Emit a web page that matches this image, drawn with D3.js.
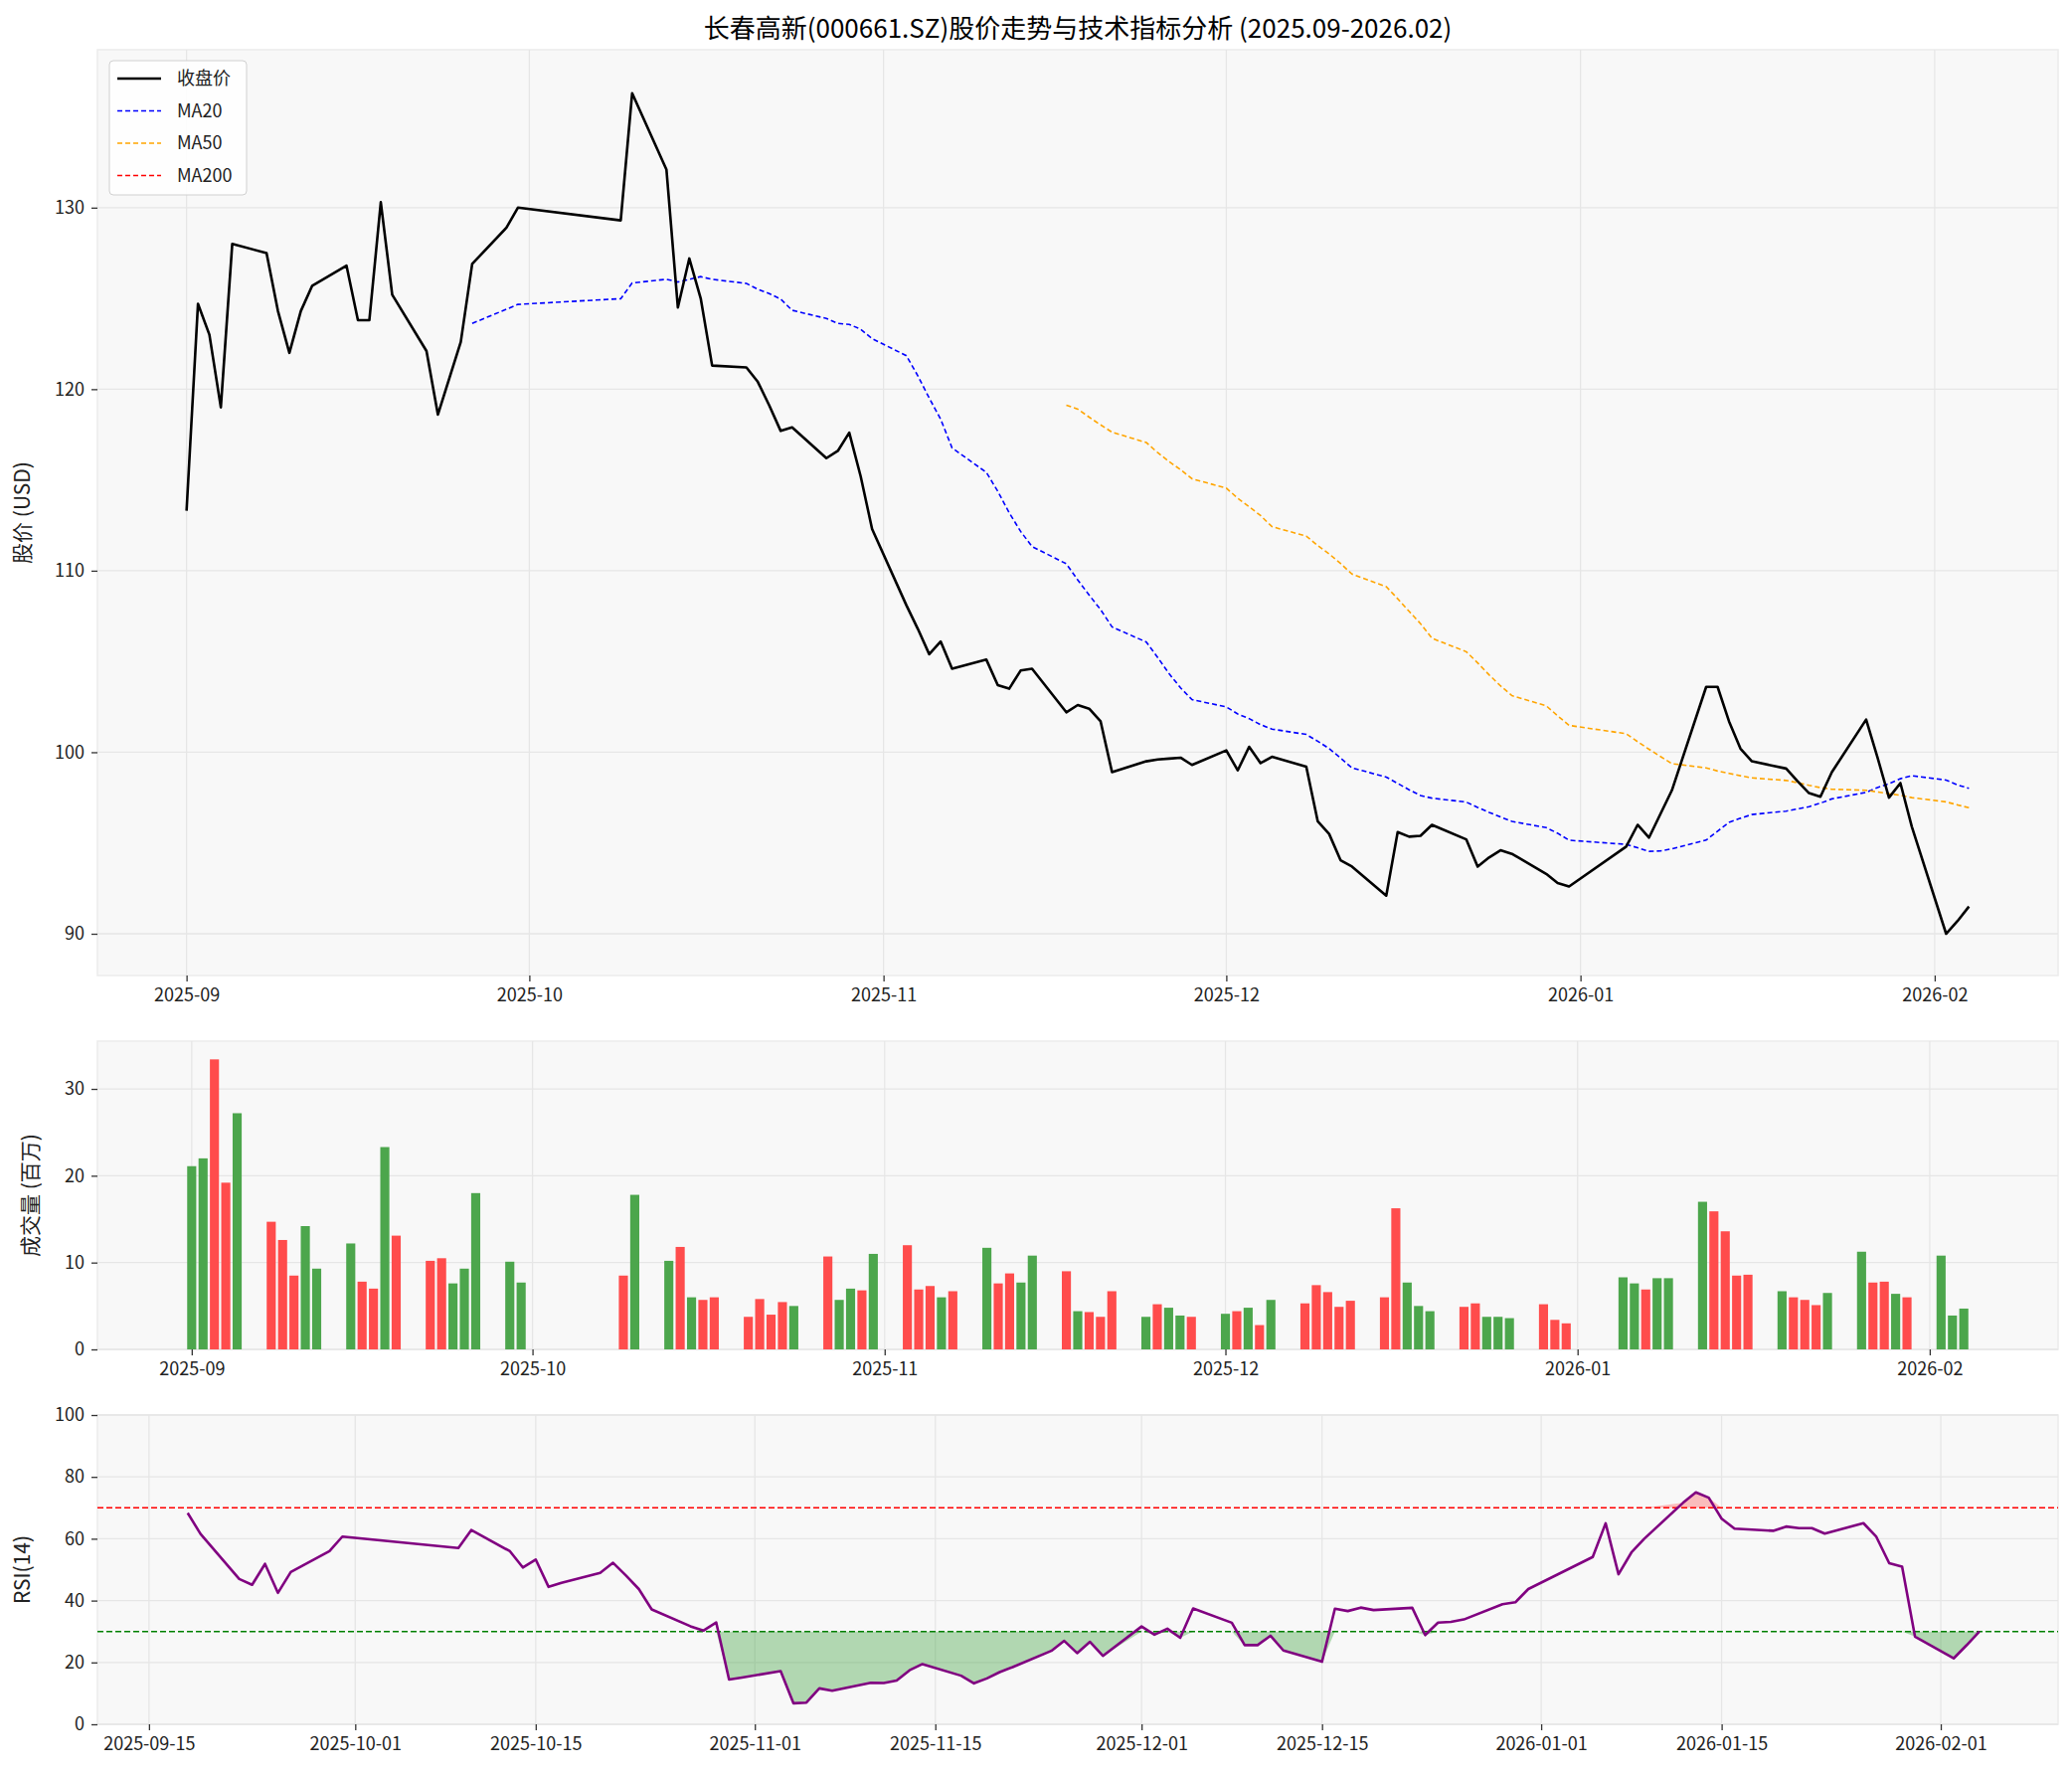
<!DOCTYPE html>
<html lang="zh">
<head>
<meta charset="UTF-8">
<title>长春高新 股价走势</title>
<script src="https://d3js.org/d3.v7.min.js"></script>
<style>
  body { margin: 0; background: #fff; }
  text { font-family: "Noto Sans CJK SC", "DejaVu Sans", sans-serif; }
</style>
</head>
<body>
<svg width="2084" height="1785"></svg>
<script>
// ---- data ----
const months = [
  { m: "2025-09", days: [1,2,3,4,5,8,9,10,11,12,15,16,17,18,19,22,23,24,25,26,29,30] },
  { m: "2025-10", days: [9,10,13,14,15,16,17,20,21,22,23,24,27,28,29,30,31] },
  { m: "2025-11", days: [3,4,5,6,7,10,11,12,13,14,17,18,19,20,21,24,25,26,27,28] },
  { m: "2025-12", days: [1,2,3,4,5,8,9,10,11,12,15,16,17,18,19,22,23,24,25,26,29,30,31] },
  { m: "2026-01", days: [5,6,7,8,9,12,13,14,15,16,19,20,21,22,23,26,27,28,29,30] },
  { m: "2026-02", days: [2,3,4] }
];
const close = [
  113.3,124.7,123.0,119.0,128.0, 127.5,124.3,122.0,124.3,125.7, 126.8,123.8,123.8,130.3,125.2,
  122.1,118.6,120.6,122.6,126.9, 128.9,130.0,
  129.3,136.3, 132.1,124.5,127.2,125.0,121.3, 121.2,120.4,119.1,117.7,117.9, 116.2,116.6,117.6,115.2,112.3,
  108.1,106.8,105.4,106.1,104.6, 105.1,103.7,103.5,104.5,104.6, 102.2,102.6,102.4,101.7,98.9,
  99.5,99.6,99.65,99.7,99.3,
  100.1,99.0,100.3,99.4,99.75, 99.2,96.2,95.5,94.05,93.7, 92.1,95.6,95.35,95.4,96.0,
  95.2,93.7,94.2,94.6,94.4, 93.3,92.8,92.6,
  94.8,96.0,95.3,96.6,97.9, 103.6,103.6,101.7,100.2,99.5, 99.1,98.4,97.75,97.55,98.9,
  101.8,99.7,97.5,98.3,95.9,
  90.0,90.7,91.5
];
const volume = [
  21.1,22.0,33.4,19.2,27.2, 14.7,12.6,8.5,14.2,9.3, 12.2,7.8,7.0,23.3,13.1, 10.2,10.5,7.6,9.3,18.0, 10.1,7.7,
  8.5,17.8, 10.2,11.8,6.0,5.7,6.0, 3.75,5.8,4.0,5.45,5.0, 10.7,5.7,7.0,6.8,11.0,
  12.0,6.9,7.3,6.0,6.7, 11.7,7.6,8.75,7.7,10.8, 9.0,4.4,4.3,3.75,6.7, 3.75,5.2,4.8,3.9,3.75,
  4.1,4.4,4.8,2.8,5.7, 5.3,7.4,6.6,4.9,5.6, 6.0,16.25,7.7,5.0,4.4, 4.9,5.3,3.75,3.75,3.6, 5.2,3.4,3.0,
  8.3,7.6,6.9,8.2,8.2, 17.0,15.9,13.6,8.5,8.6, 6.7,6.0,5.7,5.1,6.5, 11.25,7.7,7.8,6.4,6.0,
  10.8,3.9,4.7
];
// R = 红柱, G = 绿柱
const volColor = (
  "GGRRG" + "RRRGG" + "GRRGR" + "RRGGG" + "GG" +
  "RG" + "GRGRR" + "RRRRG" + "RGGRG" +
  "RRRGR" + "GRRGG" + "RGRRR" + "GRGGR" +
  "GRGRG" + "RRRRR" + "RRGGG" + "RRGGG" + "RRR" +
  "GGRGG" + "GRRRR" + "GRRRG" + "GRRGR" +
  "GGG"
).split("");
const priceTicks = [90, 100, 110, 120, 130];
const volTicks = [0, 10, 20, 30];
const rsiTicks = [0, 20, 40, 60, 80, 100];
const rsiDateTicks = ["2025-09-15","2025-10-01","2025-10-15","2025-11-01","2025-11-15",
  "2025-12-01","2025-12-15","2026-01-01","2026-01-15","2026-02-01"];

const parse = d3.timeParse("%Y-%m-%d");
const dates = [];
months.forEach(o => o.days.forEach(d => dates.push(parse(o.m + "-" + String(d).padStart(2, "0")))));

const rows = dates.map((d, i) => ({ date: d, close: close[i], vol: volume[i], c: volColor[i] }));

// moving averages and RSI(14) from closes
function ma(n) {
  return rows.map((r, i) => i < n - 1 ? null : d3.mean(rows.slice(i - n + 1, i + 1), d => d.close));
}
const ma20 = ma(20), ma50 = ma(50);
const gain = rows.map((r, i) => i === 0 ? 0 : Math.max(0, r.close - rows[i - 1].close));
const loss = rows.map((r, i) => i === 0 ? 0 : Math.max(0, rows[i - 1].close - r.close));
const rsi = rows.map((r, i) => {
  if (i < 13) return null;
  const g = d3.mean(gain.slice(i - 13, i + 1)), l = d3.mean(loss.slice(i - 13, i + 1));
  return 100 - 100 / (1 + g / l);
});

const svg = d3.select("svg");
const L = 98, R = 2070;
const day = 864e5;
const off = (s, k) => new Date(parse(s).getTime() + k * day);

svg.append("text").attr("x", 1084).attr("y", 38).attr("text-anchor", "middle")
  .attr("font-size", 26).attr("fill", "#000")
  .text("长春高新(000661.SZ)股价走势与技术指标分析 (2025.09-2026.02)");

function panel(top, bottom, x, y, yTicks, xTicks, xFmt, ylabel, ylabX) {
  const g = svg.append("g");
  g.append("rect").attr("x", L).attr("y", top).attr("width", R - L).attr("height", bottom - top)
    .attr("fill", "#f8f8f8").attr("stroke", "#ececec").attr("stroke-width", 1.5);
  g.selectAll(".vg").data(xTicks).join("line")
    .attr("x1", d => x(d)).attr("x2", d => x(d)).attr("y1", top).attr("y2", bottom)
    .attr("stroke", "#e6e6e6").attr("stroke-width", 1.3);
  g.selectAll(".hg").data(yTicks).join("line")
    .attr("x1", L).attr("x2", R).attr("y1", d => y(d)).attr("y2", d => y(d))
    .attr("stroke", "#e6e6e6").attr("stroke-width", 1.3);
  const ax = g.append("g").attr("transform", `translate(0,${bottom})`)
    .call(d3.axisBottom(x).tickValues(xTicks).tickFormat(xFmt).tickSize(6).tickPadding(7));
  const ay = g.append("g").attr("transform", `translate(${L},0)`)
    .call(d3.axisLeft(y).tickValues(yTicks).tickSize(6).tickPadding(7));
  [ax, ay].forEach(a => {
    a.select(".domain").remove();
    a.selectAll("line").attr("stroke", "#333").attr("stroke-width", 1.3);
    a.selectAll("text").attr("font-size", 18).attr("fill", "#222")
      .attr("font-family", "'Noto Sans CJK SC', sans-serif");
  });
  g.append("text").attr("transform", `translate(${ylabX},${(top + bottom) / 2}) rotate(-90)`)
    .attr("text-anchor", "middle").attr("font-size", 21).attr("fill", "#222").text(ylabel);
  return g;
}

// ---- price panel ----
const xP = d3.scaleTime().domain([off("2025-09-01", -7.8), off("2026-02-01", 10.8)]).range([L, R]);
const yP = d3.scaleLinear().domain([87.7, 138.7]).range([981, 50]);
const monthTicks = ["2025-09-01","2025-10-01","2025-11-01","2025-12-01","2026-01-01","2026-02-01"].map(parse);
const gp = panel(50, 981, xP, yP, priceTicks, monthTicks, d3.timeFormat("%Y-%m"), "股价 (USD)", 30);

const lineOf = (acc) => d3.line().defined((d, i) => acc(d, i) != null).x(d => xP(d.date)).y((d, i) => yP(acc(d, i)));
gp.append("path").datum(rows).attr("fill", "none").attr("stroke", "blue").attr("stroke-width", 1.6)
  .attr("stroke-dasharray", "5,3").attr("d", lineOf((d, i) => ma20[i]));
gp.append("path").datum(rows).attr("fill", "none").attr("stroke", "orange").attr("stroke-width", 1.6)
  .attr("stroke-dasharray", "5,3").attr("d", lineOf((d, i) => ma50[i]));
gp.append("path").datum(rows).attr("fill", "none").attr("stroke", "#000").attr("stroke-width", 2.6)
  .attr("stroke-linejoin", "round").attr("d", lineOf(d => d.close));

// legend
const leg = gp.append("g").attr("transform", "translate(110,61)");
leg.append("rect").attr("width", 138).attr("height", 135).attr("rx", 4)
  .attr("fill", "#fff").attr("fill-opacity", 0.85).attr("stroke", "#d0d0d0");
[["收盘价", "#000", null, 2.6], ["MA20", "blue", "5,3", 1.6], ["MA50", "orange", "5,3", 1.6], ["MA200", "red", "5,3", 1.6]]
  .forEach((e, i) => {
    const yy = 18 + i * 32.5;
    leg.append("line").attr("x1", 8).attr("x2", 52).attr("y1", yy).attr("y2", yy)
      .attr("stroke", e[1]).attr("stroke-width", e[3]).attr("stroke-dasharray", e[2]);
    leg.append("text").attr("x", 68).attr("y", yy + 6).attr("font-size", 18).attr("fill", "#222").text(e[0]);
  });

// ---- volume panel ----
const xV = d3.scaleTime().domain([off("2025-09-01", -8.3), off("2026-02-01", 11.3)]).range([L, R]);
const yV = d3.scaleLinear().domain([0, 35.5]).range([1357, 1047]);
const gv = panel(1047, 1357, xV, yV, volTicks, monthTicks, d3.timeFormat("%Y-%m"), "成交量 (百万)", 38);
const bw = 0.8 * (xV(off("2025-09-02", 0)) - xV(off("2025-09-01", 0)));
gv.selectAll(".bar").data(rows).join("rect")
  .attr("x", d => xV(d.date) - bw / 2).attr("width", bw)
  .attr("y", d => yV(d.vol)).attr("height", d => yV(0) - yV(d.vol))
  .attr("fill", d => d.c === "R" ? "#ff4c4c" : "#4ca64c");

// ---- RSI panel ----
const xR = d3.scaleTime().domain([off("2025-09-15", -4.0), off("2026-02-01", 9.1)]).range([L, R]);
const yR = d3.scaleLinear().domain([0, 100]).range([1734, 1423]);
const gr = panel(1423, 1734, xR, yR, rsiTicks, rsiDateTicks.map(parse), d3.timeFormat("%Y-%m-%d"), "RSI(14)", 30);
const rr = rows.map((d, i) => ({ date: d.date, v: rsi[i] })).filter(d => d.v != null);
gr.append("path").datum(rr).attr("fill", "#2e9a2e").attr("fill-opacity", 0.35)
  .attr("d", d3.area().x(d => xR(d.date)).y0(yR(30)).y1(d => yR(Math.min(d.v, 30))));
gr.append("path").datum(rr).attr("fill", "#ff4c4c").attr("fill-opacity", 0.35)
  .attr("d", d3.area().x(d => xR(d.date)).y0(yR(70)).y1(d => yR(Math.max(d.v, 70))));
[[70, "red"], [30, "green"]].forEach(([v, c]) => gr.append("line")
  .attr("x1", L).attr("x2", R).attr("y1", yR(v)).attr("y2", yR(v))
  .attr("stroke", c).attr("stroke-width", 1.6).attr("stroke-dasharray", "6,3"));
gr.append("path").datum(rr).attr("fill", "none").attr("stroke", "purple").attr("stroke-width", 2.6)
  .attr("stroke-linejoin", "round").attr("d", d3.line().x(d => xR(d.date)).y(d => yR(d.v)));
</script>
</body>
</html>
